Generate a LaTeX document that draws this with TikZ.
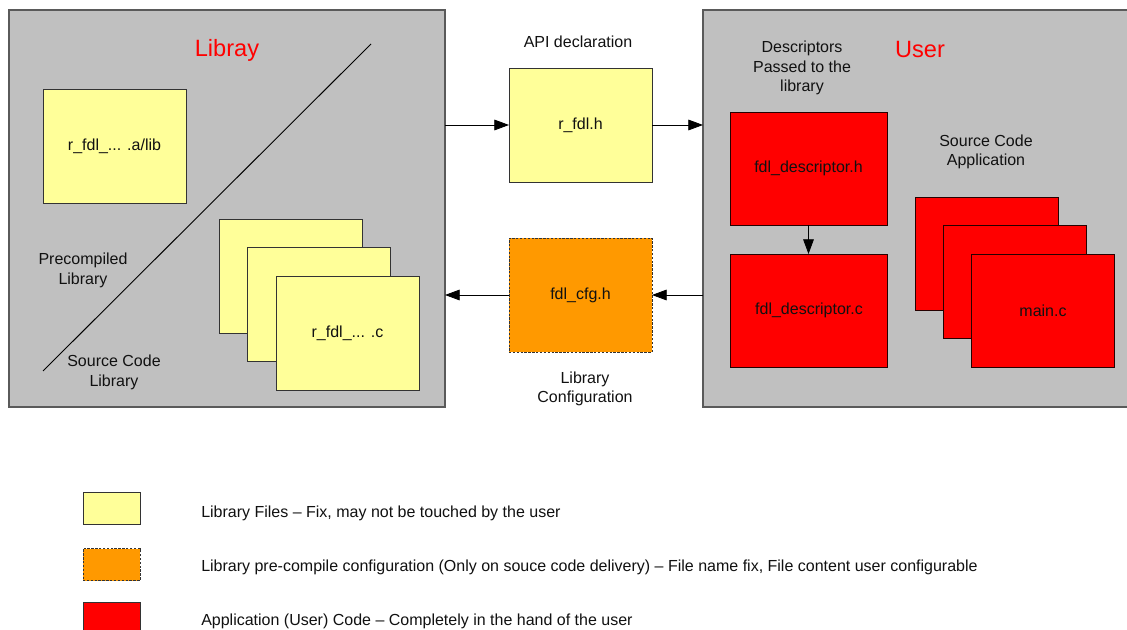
\documentclass[tikz,border=0pt]{standalone}
\usepackage{fontspec}
\setmainfont{Liberation Sans}
\usetikzlibrary{arrows.meta}
\definecolor{panelgray}{HTML}{C0C0C0}
\definecolor{panelline}{HTML}{5A5A5A}
\definecolor{libyellow}{HTML}{FFFF99}
\definecolor{cfgorange}{HTML}{FF9900}
\definecolor{userred}{HTML}{FF0000}
\definecolor{txt}{HTML}{111111}
\tikzset{
  panel/.style={draw=panelline, line width=1.2pt, fill=panelgray, inner sep=0pt, outer sep=0pt},
  filebox/.style={draw=black!80, line width=0.6pt, inner sep=0pt, outer sep=0pt, minimum width=107.25pt, minimum height=85.5pt, font=\fontsize{12}{14.6}\selectfont, text=txt},
  libfile/.style={filebox, fill=libyellow},
  cfgfile/.style={filebox, fill=cfgorange, dash pattern=on 1.8pt off 1.1pt},
  userfile/.style={filebox, fill=userred, draw=black!85!red},
  descbox/.style={userfile, minimum width=117.75pt, minimum height=84.75pt},
  legbox/.style={filebox, minimum width=42.75pt, minimum height=24pt},
  lbl/.style={align=center, inner sep=0pt, text=txt, font=\fontsize{12}{14.6}\selectfont},
  legtxt/.style={anchor=west, inner sep=0pt, text=txt, font=\fontsize{12}{14.6}\selectfont},
  title/.style={inner sep=0pt, text=userred, font=\fontsize{17.7}{20}\selectfont},
  arr/.style={draw=black, line width=0.6pt, -{Triangle[length=11pt, width=8pt]}},
}
\begin{document}
\begin{tikzpicture}[x=0.75pt, y=-0.75pt]
\clip (0,0) rectangle (1127,630);
\fill[white] (0,0) rectangle (1127,630);
% panels
\node[panel, minimum width=327pt, minimum height=297.75pt] (lib) at (227,208.5) {};
\node[panel, minimum width=327.75pt, minimum height=297.75pt] (user) at (921.5,208.5) {};
\node[title] (libtitle) at (227,50.5) {Libray};
\node[title] (usertitle) at (920,49.5) {User};
% library side
\coordinate (diagA) at (43,371);
\coordinate (diagB) at (371,44);
\draw[line width=0.7pt] (diagA) -- (diagB);
\node[libfile] (alib) at (114.5,146) {\raisebox{-1pt}{r\_fdl\_... .a/lib}};
\node[libfile] (c1) at (290.5,276.5) {};
\node[libfile] (c2) at (319,304.5) {};
\node[libfile] (c3) at (347.5,333) {\raisebox{-1pt}{r\_fdl\_... .c}};
\node[lbl] (precomp) at (83,270.5) {Precompiled\\Library};
\node[lbl] (srclib) at (114,372.5) {Source Code\\Library};
% middle
\node[lbl] (apidecl) at (578,42) {API declaration};
\node[libfile] (rfdlh) at (580.5,125) {\raisebox{-1pt}{r\_fdl.h}};
\node[cfgfile] (cfg) at (580.5,295) {\raisebox{-1pt}{fdl\_cfg.h}};
\node[lbl] (libcfg) at (585,389) {Library\\Configuration};
\draw[arr] (lib.east |- rfdlh.west) -- (rfdlh.west);
\draw[arr] (rfdlh.east) -- (user.west |- rfdlh.east);
\draw[arr] (user.west |- cfg.east) -- (cfg.east);
\draw[arr] (cfg.west) -- (lib.east |- cfg.west);
% user side
\node[lbl] (descpass) at (802,68) {Descriptors\\Passed to the\\library};
\node[descbox] (desch) at (808.5,168.5) {\raisebox{-1pt}{fdl\_descriptor.h}};
\node[descbox] (descc) at (809,310.5) {\raisebox{-1pt}{fdl\_descriptor.c}};
\draw[arr] (desch.south) -- (desch.south |- descc.north);
\node[lbl] (srcapp) at (986,152) {Source Code\\Application};
\node[userfile, minimum height=84.75pt] (m1) at (986.5,253.5) {};
\node[userfile, minimum height=84.75pt] (m2) at (1014.5,282) {};
\node[userfile, minimum height=84.75pt] (m3) at (1043,310.5) {\raisebox{-1pt}{main.c}};
% legend
\node[legbox, fill=libyellow] (legy) at (111.5,508) {};
\node[legbox, fill=cfgorange, dash pattern=on 1.8pt off 1.1pt] (lego) at (111.5,564.5) {};
\node[legbox, fill=userred] (legr) at (111.5,618) {};
\node[legtxt] (legyt) at (201,513) {Library Files – Fix, may not be touched by the user};
\node[legtxt] (legot) at (201,567) {Library pre-compile configuration (Only on souce code delivery) – File name fix, File content user configurable};
\node[legtxt] (legrt) at (201,621) {Application (User) Code – Completely in the hand of the user};
\end{tikzpicture}
\end{document}
